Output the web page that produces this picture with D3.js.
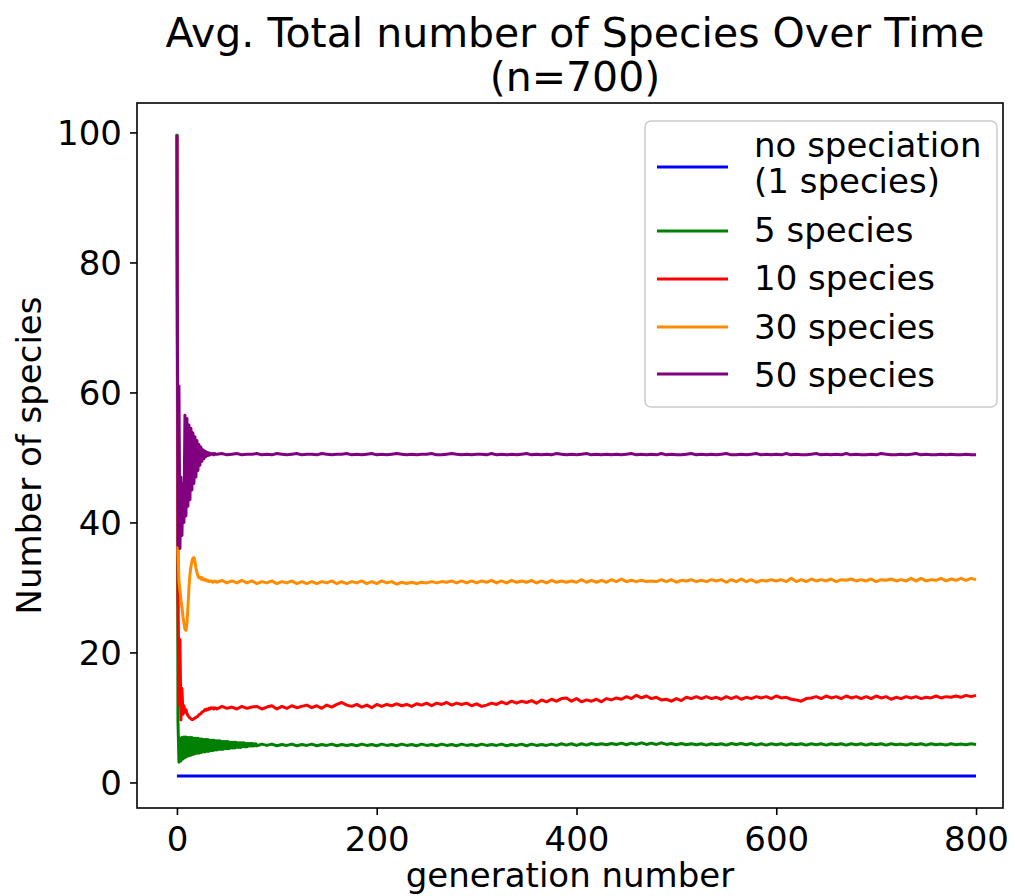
<!DOCTYPE html>
<html>
<head>
<meta charset="utf-8">
<script src="https://cdn.jsdelivr.net/npm/d3@7"></script>
<style>
  html, body { margin: 0; padding: 0; background: #fff; }
  svg { display: block; font-family: "DejaVu Sans", sans-serif; }
</style>
</head>
<body>
<svg id="chart" width="1015" height="896"></svg>
<script>
// ---------------- DATA ----------------
const seriesNames = ["no speciation\n(1 species)", "5 species", "10 species", "30 species", "50 species"];
const seriesColors = ["#0000ff", "#008000", "#ff0000", "#ff8c00", "#800080"];
const xTicks = [0, 200, 400, 600, 800];
const yTicks = [0, 20, 40, 60, 80, 100];
const STEP = 5;

// no speciation: constant
const blueGens = [0, 800];
const blueValues = [1, 1];

// 5 species: per-generation values for gens 0..79, then every 5 gens from 80
const greenEarly = [99.8, 9.5, 3.1, 6.8, 3.3, 6.9, 3.6, 7.0, 3.8, 7.0,
  4.0, 6.9, 4.1, 6.9, 4.2, 6.9, 4.3, 6.8, 4.4, 6.8,
  4.5, 6.8, 4.5, 6.7, 4.6, 6.7, 4.7, 6.6, 4.7, 6.6,
  4.8, 6.6, 4.8, 6.5, 4.9, 6.5, 4.9, 6.5, 5.0, 6.4,
  5.0, 6.4, 5.1, 6.4, 5.1, 6.3, 5.1, 6.3, 5.2, 6.3,
  5.2, 6.3, 5.2, 6.2, 5.3, 6.2, 5.3, 6.2, 5.3, 6.2,
  5.4, 6.1, 5.4, 6.1, 5.4, 6.1, 5.5, 6.1, 5.5, 6.0,
  5.5, 6.0, 5.6, 6.0, 5.6, 6.0, 5.6, 5.95, 5.65, 5.95];
const greenLate = [5.65,5.9,5.7,5.9,5.65,5.85,5.7,5.9,5.65,5.85,
  5.7,5.9,5.65,5.85,5.7,5.9,5.65,5.85,5.7,5.85,
  5.65,5.9,5.7,5.85,5.65,5.9,5.7,5.85,5.65,5.9,
  5.7,5.85,5.65,5.9,5.7,5.85,5.65,5.9,5.7,5.85,
  5.65,5.9,5.7,5.85,5.65,5.9,5.7,5.85,5.7,5.9,
  5.65,5.85,5.7,5.9,5.65,5.9,5.7,5.85,5.7,5.9,
  5.7,5.95,5.75,5.95,5.7,5.95,5.75,6.0,5.8,5.95,
  5.8,6.0,5.85,6.05,5.8,6.05,5.85,6.1,5.85,6.05,
  5.85,6.1,5.85,6.0,5.8,6.0,5.8,5.95,5.8,5.95,
  5.75,5.95,5.8,5.95,5.75,6.0,5.85,6.0,5.8,6.0,
  5.75,5.95,5.75,5.95,5.8,5.95,5.75,5.95,5.8,5.95,
  5.75,5.95,5.8,5.95,5.75,5.95,5.8,5.95,5.75,5.95,
  5.8,5.95,5.75,5.95,5.8,5.95,5.75,5.95,5.8,5.9,
  5.75,5.95,5.8,5.95,5.75,5.95,5.8,5.9,5.75,5.95,
  5.8,5.9,5.8,5.95,5.85];

// 10 species: gens 0..39, then every 5 gens from 40
const redEarly = [99.6, 29.5, 12, 22, 9.6, 14.5, 10.5, 11.8, 10.8, 11.2,
  10.6, 10.3, 10.1, 9.9, 9.8, 9.7, 9.7, 9.8, 9.9, 10.0,
  10.1, 10.2, 10.4, 10.5, 10.6, 10.8, 10.9, 11.0, 11.2, 11.1,
  11.3, 11.2, 11.4, 11.3, 11.5, 11.4, 11.5, 11.3, 11.5, 11.4];
const redLate = [11.3,11.7,11.4,11.6,11.3,11.7,11.4,11.6,11.7,11.3,
  11.6,11.8,11.3,11.7,11.4,11.8,11.5,11.7,11.9,11.5,
  11.8,11.4,11.9,11.6,12.0,12.3,11.9,11.7,12.0,11.6,
  11.9,11.5,12.0,11.7,12.0,11.8,12.1,11.8,12.0,11.7,
  12.1,11.9,12.2,11.8,12.2,12.0,12.3,11.9,12.2,12.0,
  12.2,11.8,12.1,11.7,11.9,12.2,12.0,12.4,12.1,12.5,
  12.2,12.5,12.3,12.6,12.2,12.7,12.4,12.8,12.5,12.9,
  13.0,12.5,12.9,12.4,12.7,12.5,12.8,12.4,12.9,12.7,
  13.0,12.8,13.2,12.9,13.4,13.0,13.3,12.9,13.1,12.7,
  12.8,12.5,12.9,12.6,13.1,12.9,13.2,12.9,13.2,12.9,
  13.1,12.8,13.2,12.9,13.2,12.8,13.1,12.9,13.2,13.0,
  13.2,12.9,13.3,13.0,13.1,12.8,12.7,12.5,12.9,13.0,
  13.2,12.9,13.3,13.0,13.2,12.9,13.3,13.0,13.2,12.9,
  13.2,12.9,13.3,13.0,13.2,12.8,13.1,12.9,13.2,13.0,
  13.2,12.9,13.1,13.0,13.3,13.0,13.2,13.1,13.3,13.1,
  13.4,13.2,13.4];

// 30 species
const orangeEarly = [99.6, 35.5, 31, 29.5, 28, 27, 25.5, 24.5, 23.6, 23.4,
  24.5, 27, 30, 32, 33.2, 34, 34.5, 34.6, 34, 33,
  32.3, 31.8, 31.5, 31.6, 31.3, 31.5, 31.2, 31.3, 31.1, 31.2,
  31.0, 31.1, 30.9, 31.0, 30.9, 31.0, 30.8, 30.9, 31.0, 30.9];
const orangeLate = [30.8,31.1,30.7,31.0,30.7,31.1,30.7,31.0,30.6,30.9,
  30.7,31.0,30.6,30.9,30.7,31.0,30.6,30.9,30.6,30.9,
  30.6,30.9,30.7,31.0,30.6,30.9,30.6,30.9,30.7,31.0,
  30.6,30.9,30.6,31.0,30.7,30.9,30.5,30.8,30.6,30.8,
  30.6,30.8,30.7,30.9,30.7,30.9,30.8,31.0,30.7,31.0,
  30.7,31.0,30.7,31.0,30.8,31.1,30.7,31.0,30.7,31.1,
  30.8,31.0,30.8,31.1,30.7,31.0,30.7,31.1,30.8,31.0,
  30.8,31.0,30.8,31.2,30.8,31.1,30.8,31.1,30.8,31.2,
  30.9,31.3,30.9,31.1,30.9,31.1,30.9,31.0,30.9,31.2,
  30.9,31.2,30.8,31.1,31.0,31.2,30.9,31.1,30.9,31.2,
  31.0,31.2,30.8,31.2,30.9,31.3,30.9,31.2,30.8,31.1,
  31.0,31.2,31.0,31.2,30.9,31.4,30.9,31.2,30.9,31.3,
  31.0,31.2,31.0,31.3,30.9,31.2,31.1,31.3,31.0,31.2,
  31.0,31.3,30.9,31.2,31.1,31.3,31.0,31.2,31.0,31.4,
  31.0,31.4,31.0,31.2,31.1,31.4,31.0,31.3,31.1,31.4,
  31.1,31.4,31.2];

// 50 species
const purpleEarly = [99.6, 36.5, 61, 36, 47, 38, 46, 40, 56.5, 41,
  56, 42.5, 55, 43.5, 54.5, 45, 53.8, 46, 53.2, 47,
  52.6, 48, 52, 48.8, 51.6, 49.4, 51.2, 49.8, 51, 50.1,
  50.8, 50.3, 50.7, 50.4, 50.6, 50.5, 50.6, 50.4, 50.6, 50.5];
const purpleLate = [50.5,50.6,50.4,50.5,50.6,50.4,50.5,50.5,50.6,50.4,
  50.5,50.4,50.6,50.5,50.4,50.5,50.6,50.4,50.5,50.5,
  50.4,50.6,50.5,50.4,50.5,50.5,50.6,50.4,50.5,50.4,
  50.5,50.6,50.4,50.5,50.4,50.5,50.6,50.5,50.4,50.5,
  50.4,50.5,50.5,50.6,50.4,50.4,50.5,50.6,50.5,50.4,
  50.5,50.4,50.5,50.5,50.4,50.6,50.4,50.5,50.4,50.5,
  50.4,50.5,50.6,50.4,50.5,50.4,50.5,50.4,50.6,50.5,
  50.4,50.5,50.4,50.5,50.6,50.4,50.5,50.4,50.5,50.4,
  50.5,50.4,50.5,50.6,50.4,50.5,50.4,50.5,50.4,50.6,
  50.4,50.5,50.4,50.4,50.5,50.6,50.4,50.5,50.4,50.5,
  50.4,50.5,50.6,50.4,50.4,50.5,50.4,50.5,50.6,50.4,
  50.5,50.4,50.5,50.4,50.6,50.4,50.5,50.4,50.4,50.5,
  50.6,50.4,50.5,50.4,50.5,50.4,50.6,50.4,50.5,50.4,
  50.4,50.5,50.4,50.6,50.5,50.4,50.4,50.5,50.4,50.5,
  50.6,50.4,50.5,50.4,50.4,50.5,50.4,50.5,50.4,50.4,
  50.5,50.4,50.4];

// ---------------- BUILD ----------------
function build(early, late) {
  const pts = early.map((v, i) => [i, v]);
  const start = early.length;
  late.forEach((v, i) => pts.push([start + i * STEP, v]));
  return pts;
}
const series = [
  blueGens.map((g, i) => [g, blueValues[i]]),
  build(greenEarly, greenLate),
  build(redEarly, redLate),
  build(orangeEarly, orangeLate),
  build(purpleEarly, purpleLate)
];

const svg = d3.select("#chart");
const L = 137, R = 1003, T = 103, B = 808;
const x = d3.scaleLinear().domain([-40, 827]).range([L, R]);
const y = d3.scaleLinear().domain([-3.93, 104.53]).range([B, T]);

svg.append("defs").append("clipPath").attr("id", "clip")
  .append("rect").attr("x", L).attr("y", T).attr("width", R - L).attr("height", B - T);

const line = d3.line().x(d => x(d[0])).y(d => y(d[1]));
const g = svg.append("g").attr("clip-path", "url(#clip)");
series.forEach((pts, i) => {
  g.append("path").datum(pts)
    .attr("d", line)
    .attr("fill", "none")
    .attr("stroke", seriesColors[i])
    .attr("stroke-width", 3)
    .attr("stroke-linejoin", "round");
});

// axes
const fs = 34;
const xAxis = svg.append("g").attr("transform", `translate(0,${B})`)
  .call(d3.axisBottom(x).tickValues(xTicks).tickSize(7).tickPadding(12).tickFormat(d3.format("d")));
const yAxis = svg.append("g").attr("transform", `translate(${L},0)`)
  .call(d3.axisLeft(y).tickValues(yTicks).tickSize(7).tickPadding(8).tickFormat(d3.format("d")));
[xAxis, yAxis].forEach(a => {
  a.select(".domain").remove();
  a.selectAll(".tick line").attr("stroke", "#000").attr("stroke-width", 1.6);
  a.selectAll(".tick text").attr("font-size", fs).attr("fill", "#000")
    .attr("font-family", "DejaVu Sans, sans-serif");
});
yAxis.selectAll(".tick text").attr("dy", "0.36em");

// frame
svg.append("rect").attr("x", L).attr("y", T).attr("width", R - L).attr("height", B - T)
  .attr("fill", "none").attr("stroke", "#000").attr("stroke-width", 1.6);

// labels
svg.append("text").attr("x", (L + R) / 2).attr("y", 887).attr("text-anchor", "middle")
  .attr("font-size", fs).text("generation number");
svg.append("text").attr("transform", `translate(41,${(T + B) / 2}) rotate(-90)`)
  .attr("text-anchor", "middle").attr("font-size", fs).text("Number of species");

// title
const title = svg.append("text").attr("text-anchor", "middle").attr("font-size", 41);
title.append("tspan").attr("x", (L + R) / 2 + 5).attr("y", 47).text("Avg. Total number of Species Over Time");
title.append("tspan").attr("x", (L + R) / 2 + 5).attr("y", 91).text("(n=700)");

// legend
const lg = svg.append("g");
lg.append("rect").attr("x", 645).attr("y", 121).attr("width", 352).attr("height", 286)
  .attr("rx", 6).attr("fill", "#fff").attr("fill-opacity", 0.8)
  .attr("stroke", "#cccccc").attr("stroke-width", 1.5);
const legendLineY = [167, 231, 279, 327, 374];
const legendTextY = [[157, 193], [242], [290], [339], [387]];
seriesNames.forEach((name, i) => {
  lg.append("line").attr("x1", 657).attr("x2", 728)
    .attr("y1", legendLineY[i]).attr("y2", legendLineY[i])
    .attr("stroke", seriesColors[i]).attr("stroke-width", 3);
  const t = lg.append("text").attr("font-size", fs).attr("fill", "#000");
  name.split("\n").forEach((part, j) => {
    t.append("tspan").attr("x", 754).attr("y", legendTextY[i][j]).text(part);
  });
});
</script>
</body>
</html>
